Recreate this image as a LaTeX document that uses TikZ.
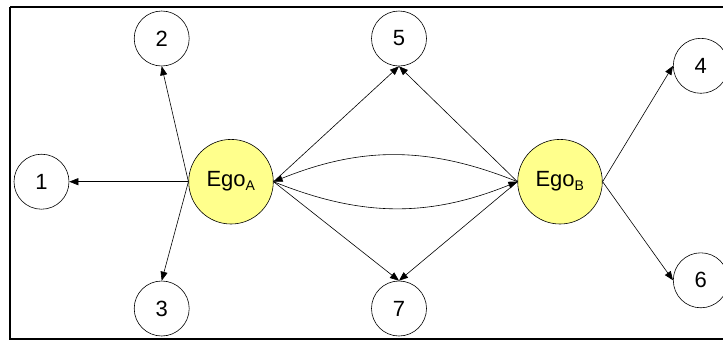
\documentclass[tikz,border=0pt]{standalone}
\usepackage{fontspec}
\setmainfont{Liberation Sans}
\usetikzlibrary{arrows.meta}
\definecolor{egofill}{RGB}{255,255,140}
\tikzset{
  small/.style={circle,draw,line width=0.6pt,minimum size=55pt,inner sep=0pt,font=\fontsize{22}{22}\selectfont},
  ego/.style={circle,draw,line width=0.6pt,fill=egofill,minimum size=84.6pt,inner sep=0pt,font=\fontsize{22}{22}\selectfont},
  link/.style={line width=0.6pt,-{Triangle[length=9pt,width=7pt]}}
}
\begin{document}
\begin{tikzpicture}[x=1pt,y=-1pt]
\useasboundingbox (0,0) rectangle (723,341);
\draw[line width=2pt] (10,7) -- (740,7) (10,7) -- (10,339) -- (740,339);
\node[ego] (A) at (231,181.7) {Ego\textsubscript{\fontsize{14}{14}\selectfont A}};
\node[ego] (B) at (560,181.7) {Ego\textsubscript{\fontsize{14}{14}\selectfont B}};
\node[small] (n1) at (41.5,181.7) {1};
\node[small] (n2) at (161.7,38.5) {2};
\node[small] (n3) at (161.7,308.5) {3};
\node[small] (n5) at (399,38.5) {5};
\node[small] (n7) at (399,308.5) {7};
\node[small] (n4) at (700.8,65.8) {4};
\node[small] (n6) at (700.8,280.3) {6};
\draw[link] (A.west) -- (n1.east);
\draw[link] (A.west) -- (n2.south);
\draw[link] (A.west) -- (n3.north);
\draw[link] (A.east) -- (n5.south);
\draw[link] (A.east) -- (n7.north);
\draw[link] (B.west) -- (n5.south);
\draw[link] (B.west) -- (n7.north);
\draw[link] (B.east) -- (n4.west);
\draw[link] (B.east) -- (n6.west);
\draw[link] (A.east) to[out=-22,in=-158] (B.west);
\draw[link] (B.west) to[out=158,in=22] (A.east);
\end{tikzpicture}
\end{document}
